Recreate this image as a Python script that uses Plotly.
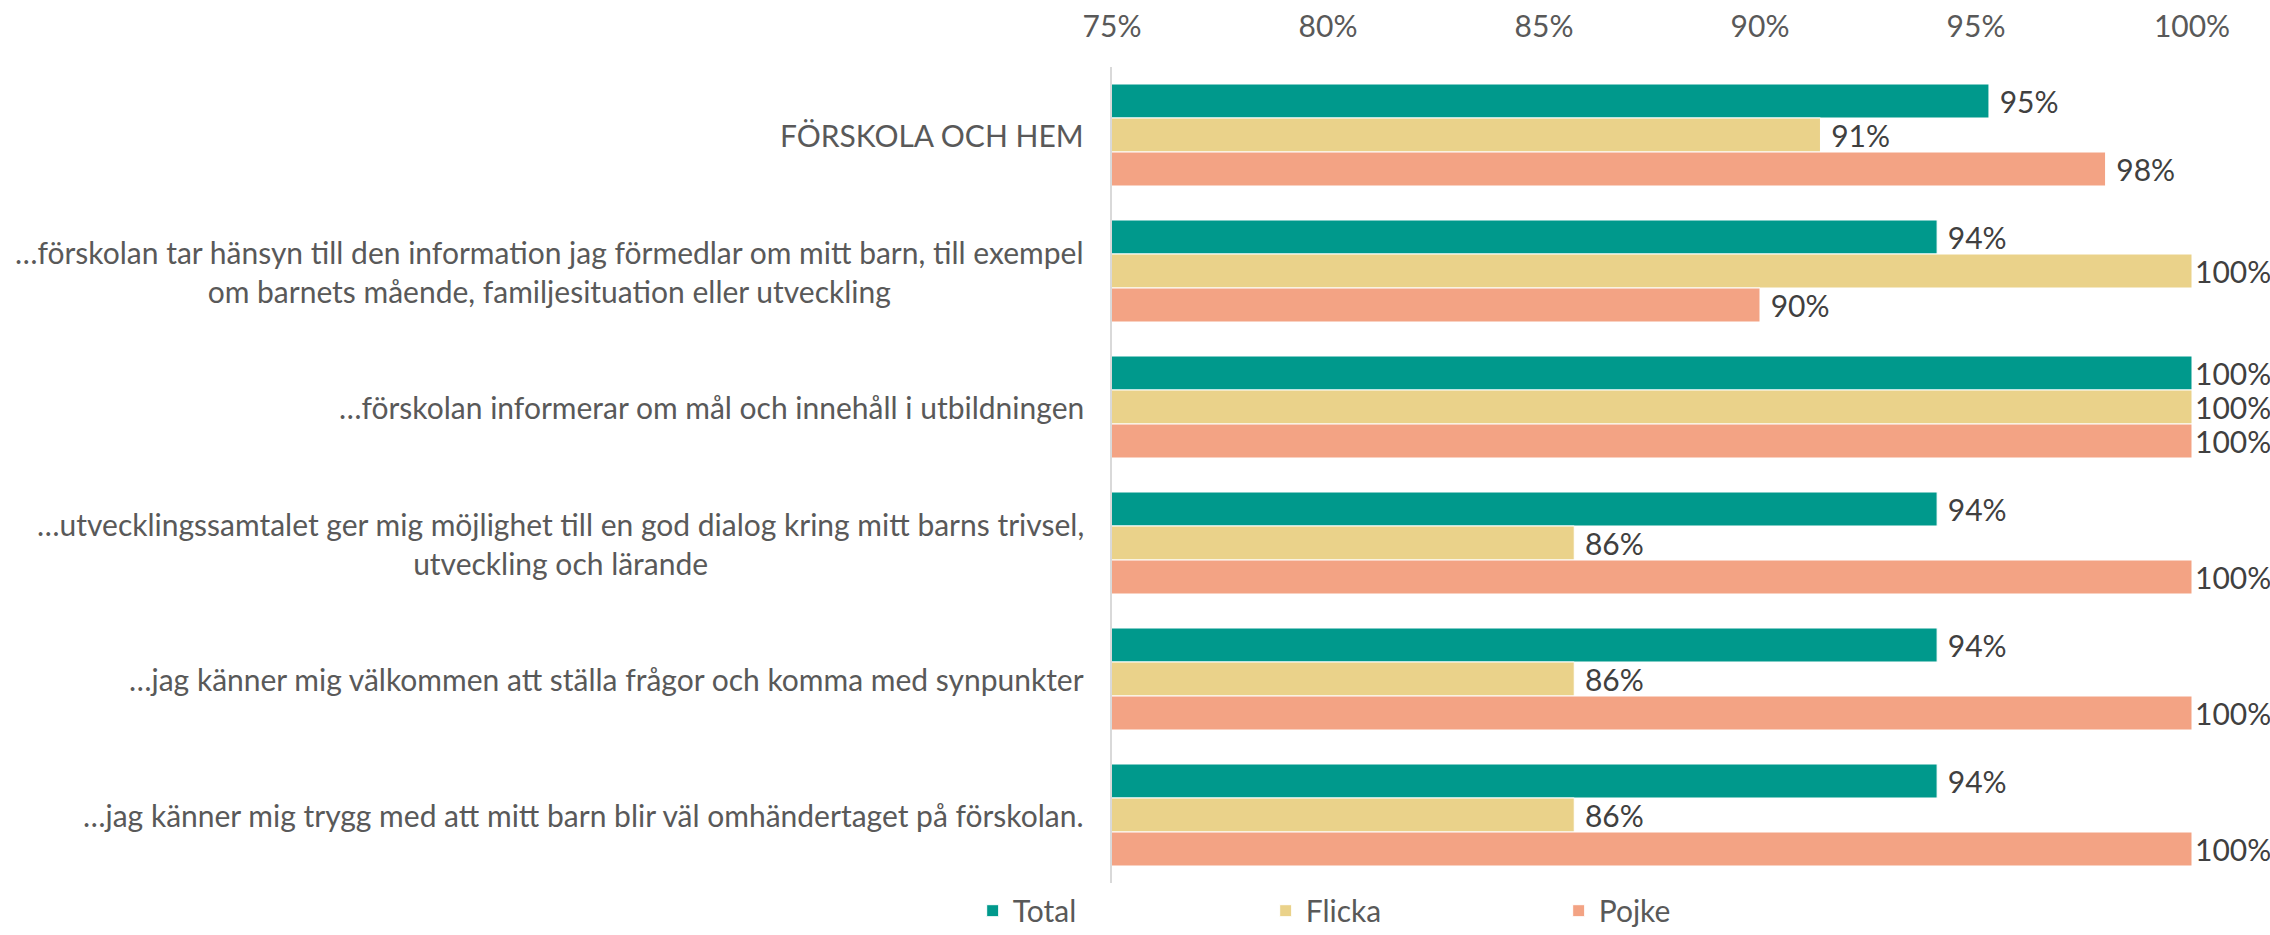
import plotly.graph_objects as go

categories = [
    "FÖRSKOLA OCH HEM",
    "…förskolan tar hänsyn till den information jag förmedlar om mitt barn, till exempel<br>om barnets mående, familjesituation eller utveckling",
    "…förskolan informerar om mål och innehåll i utbildningen",
    "…utvecklingssamtalet ger mig möjlighet till en god dialog kring mitt barns trivsel,<br>utveckling och lärande",
    "…jag känner mig välkommen att ställa frågor och komma med synpunkter",
    "…jag känner mig trygg med att mitt barn blir väl omhändertaget på förskolan.",
]
series_names = ["Total", "Flicka", "Pojke"]
total = [0.953, 0.941, 1.0, 0.941, 0.941, 0.941]
flicka = [0.914, 1.0, 1.0, 0.857, 0.857, 0.857]
pojke = [0.980, 0.900, 1.0, 1.0, 1.0, 1.0]
tick_vals = [0.75, 0.80, 0.85, 0.90, 0.95, 1.00]

colors = ["#00998C", "#EAD28A", "#F3A384"]
FONT = "Lato"
TXT = "#595959"
FS = 30

fig = go.Figure()
for name, vals, col in zip(series_names, [total, flicka, pojke], colors):
    # labels of bars that reach the axis end sit tight against the bar (as in the original)
    templates = ["%{x:.0%}" if v >= 1.0 else "\u00a0%{x:.0%}" for v in vals]
    fig.add_trace(go.Bar(
        y=categories, x=vals, name=name, orientation="h",
        marker=dict(color=col, line=dict(color="white", width=1)),
        texttemplate=templates, textposition="outside",
        textfont=dict(family=FONT, size=FS, color="#404040"),
        cliponaxis=False, constraintext="none",
        hoverinfo="skip",
    ))

for cat in categories:
    fig.add_annotation(
        x=0, xref="paper", xshift=-26, xanchor="right",
        y=cat, yref="y", yanchor="middle",
        text=cat, showarrow=False, align="center",
        font=dict(family=FONT, size=FS, color=TXT),
    )

fig.update_layout(
    width=2270, height=935,
    margin=dict(l=1112, r=78, t=67, b=52, autoexpand=False),
    paper_bgcolor="white", plot_bgcolor="white",
    barmode="group", bargap=0.25, bargroupgap=0,
    font=dict(family=FONT, size=FS, color=TXT),
    xaxis=dict(
        range=[0.75, 1.0], side="top", tickvals=tick_vals, tickformat=".0%",
        showgrid=False, zeroline=False, showline=False, ticks="",
        ticklabelstandoff=23,
        tickfont=dict(family=FONT, size=FS, color=TXT),
    ),
    yaxis=dict(
        type="category", categoryorder="array", categoryarray=categories,
        autorange="reversed", showticklabels=False, ticks="",
        showline=True, linecolor="#D9D9D9", linewidth=1.5,
        showgrid=False, zeroline=False,
    ),
    legend=dict(
        orientation="h", x=-0.129, xanchor="left",
        yref="container", y=0.026, yanchor="middle",
        entrywidth=248, entrywidthmode="pixels",
        font=dict(family=FONT, size=FS, color=TXT),
        traceorder="normal",
    ),
    showlegend=True,
)

fig.write_html("out.html")
